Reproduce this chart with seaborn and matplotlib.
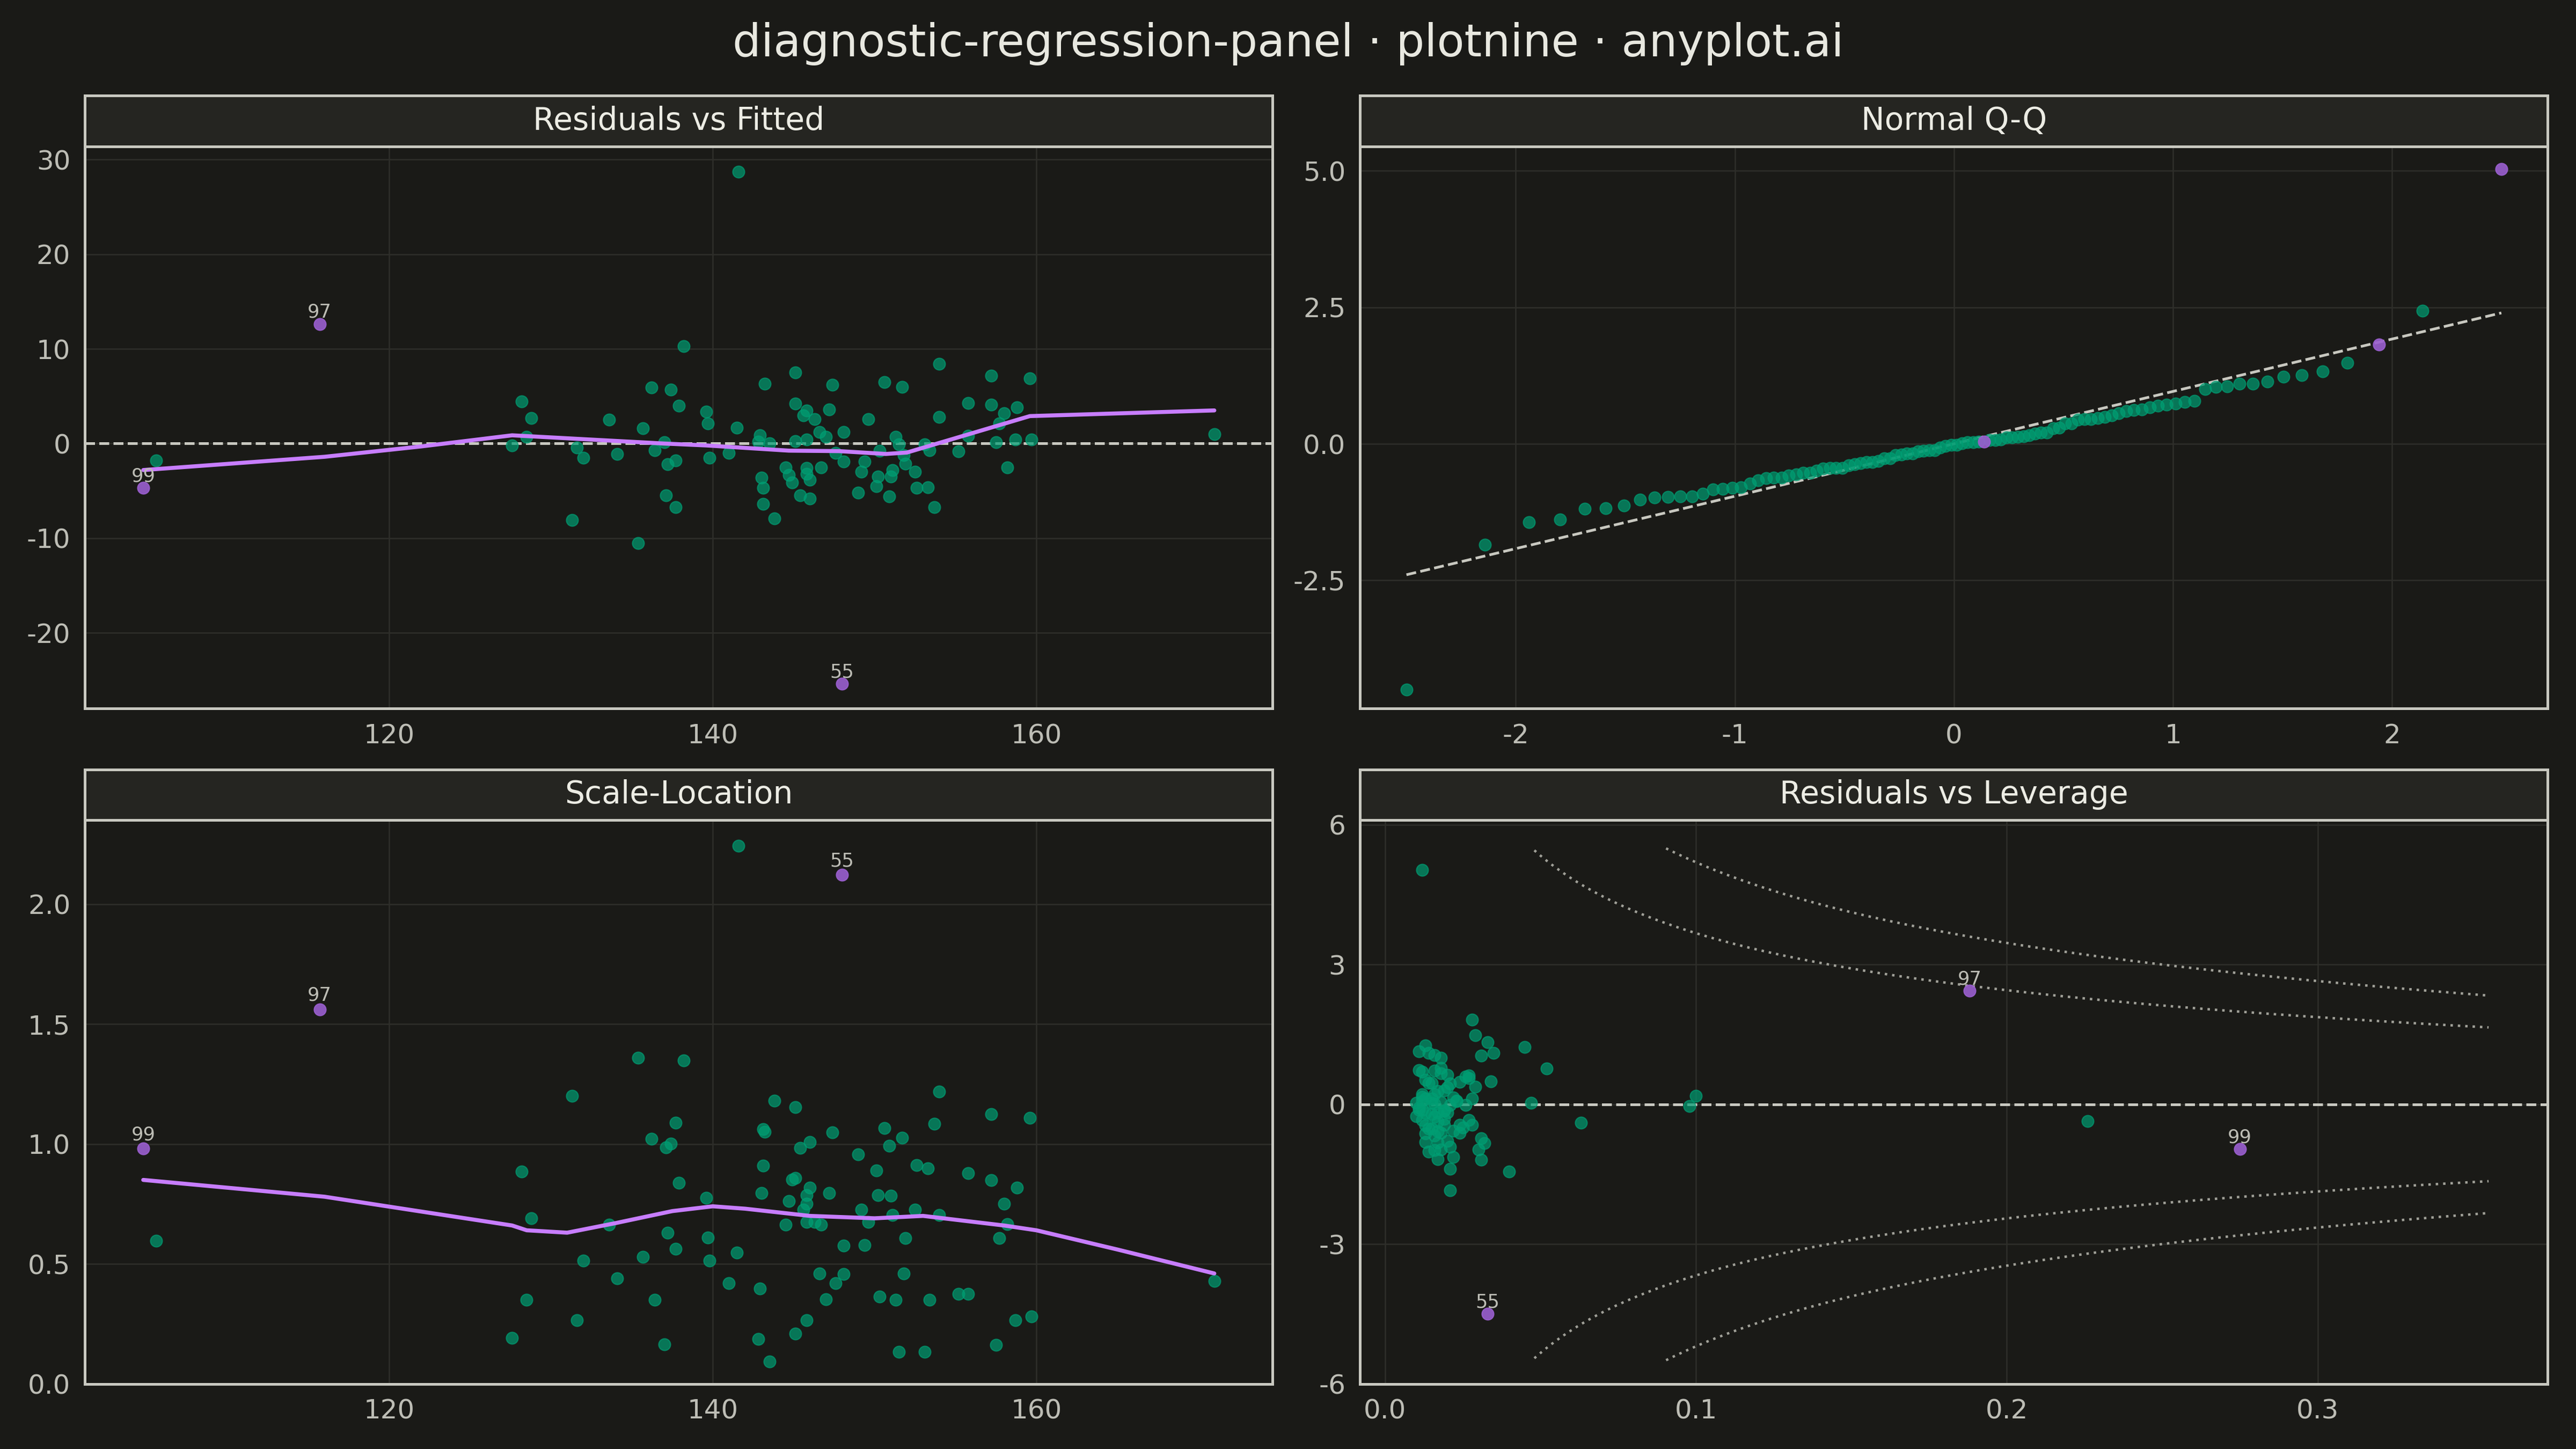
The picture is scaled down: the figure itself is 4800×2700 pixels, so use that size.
import numpy as np
import pandas as pd
import matplotlib
matplotlib.use("Agg")
import matplotlib.pyplot as plt
import seaborn as sns
from statistics import NormalDist

# Data (fitted values and raw residuals)
fitted = [104.8, 105.6, 115.7, 141.6, 148.0,
          138.2, 128.2, 128.8, 127.6, 128.5, 131.3, 131.6, 132.0, 133.6, 134.1,
          135.4, 135.7, 136.2, 136.4, 137.0, 137.2, 137.7, 137.1, 137.7, 137.4,
          137.9, 139.6, 139.7, 139.8, 141.5, 143.2, 142.9, 142.8, 143.5, 143.0,
          143.1, 143.1, 143.8, 145.1, 145.1, 145.8, 145.6, 146.3, 147.2, 147.4,
          145.1, 145.8, 146.6, 147.0, 148.1, 144.5, 144.7, 144.9, 145.8, 145.8,
          146.0, 146.7, 145.4, 146.0, 147.6, 148.1, 149.4, 149.2, 149.0, 149.6,
          150.6, 151.7, 150.3, 151.3, 151.5, 151.8, 151.9, 151.1, 151.0, 150.2,
          150.1, 150.9, 152.5, 152.6, 153.3, 153.7, 153.1, 153.4, 154.0, 154.0,
          155.2, 155.8, 155.8, 157.2, 157.2, 157.7, 158.0, 157.5, 158.2, 158.7,
          158.8, 159.6, 159.7, 171.0, 141.0]
residual = [-4.7, -1.8, 12.6, 28.7, -25.4,
            10.3, 4.45, 2.7, -0.2, 0.7, -8.1, -0.4, -1.5, 2.5, -1.1,
            -10.5, 1.6, 5.9, -0.7, 0.15, -2.2, -1.8, -5.5, -6.7, 5.7,
            4.0, 3.4, 2.1, -1.5, 1.7, 6.3, 0.9, 0.2, 0.05, -3.6,
            -4.7, -6.4, -7.9, 7.5, 4.2, 3.5, 3.0, 2.6, 3.6, 6.2,
            0.25, 0.4, 1.2, 0.7, 1.2, -2.5, -3.3, -4.1, -2.6, -3.2,
            -3.8, -2.5, -5.5, -5.8, -1.0, -1.9, -1.9, -3.0, -5.2, 2.6,
            6.5, 6.0, -0.75, 0.7, -0.1, -1.2, -2.1, -2.8, -3.5, -3.5,
            -4.5, -5.6, -3.0, -4.7, -4.6, -6.7, -0.1, -0.7, 8.4, 2.8,
            -0.8, 4.3, 0.8, 7.2, 4.1, 2.1, 3.2, 0.15, -2.5, 0.4,
            3.8, 6.9, 0.45, 1.0, -1.0]
leverage = [0.275, 0.226, 0.188, 0.012, 0.033,
            0.028, 0.018, 0.024, 0.098, 0.015, 0.040, 0.011, 0.016, 0.021, 0.013,
            0.021, 0.017, 0.031, 0.012, 0.047, 0.063, 0.019, 0.030, 0.031, 0.018,
            0.012, 0.026, 0.029, 0.010, 0.019, 0.014, 0.012, 0.010, 0.016, 0.013,
            0.017, 0.022, 0.021, 0.033, 0.011, 0.027, 0.013, 0.015, 0.020, 0.035,
            0.018, 0.023, 0.016, 0.028, 0.012, 0.019, 0.017, 0.031, 0.013, 0.022,
            0.016, 0.024, 0.018, 0.014, 0.020, 0.012, 0.027, 0.015, 0.021, 0.014,
            0.011, 0.016, 0.019, 0.013, 0.026, 0.015, 0.017, 0.025, 0.018, 0.024,
            0.020, 0.016, 0.014, 0.032, 0.013, 0.017, 0.021, 0.011, 0.029, 0.034,
            0.019, 0.052, 0.022, 0.013, 0.016, 0.020, 0.027, 0.015, 0.028, 0.012,
            0.018, 0.045, 0.023, 0.100, 0.017]
labels = [99, None, 97, None, 55] + [None] * 95

lowess1_x = [104.8, 116, 122, 127.6, 137, 139.6, 144.7, 147.8, 150.7, 152, 159.6, 171]
lowess1_y = [-2.8, -1.4, -0.3, 0.87, 0.0, -0.2, -0.75, -0.8, -1.1, -0.95, 2.9, 3.5]
lowess3_x = [104.8, 116, 127.6, 128.5, 131, 134, 137.5, 140, 142, 146, 150, 153, 158, 160, 165, 171]
lowess3_y = [0.85, 0.78, 0.66, 0.64, 0.63, 0.67, 0.72, 0.74, 0.73, 0.70, 0.69, 0.70, 0.66, 0.64, 0.56, 0.46]

BG = "#1a1a17"
STRIP = "#252521"
EDGE = "#c8c8c0"
GRID = "#2e2e2a"
TEXT = "#bdbdb5"
GREEN = "#009e73"
PURPLE = "#9b5fd0"
LINE = "#c77dff"

sns.set_theme(style="dark")
plt.rcParams["font.family"] = ["DejaVu Sans"]

df = pd.DataFrame({"fitted": fitted, "resid": residual, "lev": leverage, "label": labels})
sigma = 5.74
df["std"] = df["resid"] / (sigma * np.sqrt(1 - df["lev"]))
df["sqrt_std"] = np.sqrt(np.abs(df["std"]))
df["hl"] = df["label"].notna()

n = len(df)
nd = NormalDist()
theo = [nd.inv_cdf((i + 1 - 0.375) / (n + 0.25)) for i in range(n)]
qq = pd.DataFrame({"theo": theo, "sample": np.sort(df["std"].values)})
qq["hl"] = False
qq.loc[[55, 97, 99], "hl"] = True
slope = 0.96
icept = 0.0

fig = plt.figure(figsize=(16, 9), dpi=300, facecolor=BG)
fig.suptitle("diagnostic-regression-panel · plotnine · anyplot.ai", color="#e8e8e0",
             fontsize=20, y=0.985)

boxes = [(0.033, 0.511, 0.461, 0.388), (0.528, 0.511, 0.461, 0.388),
         (0.033, 0.045, 0.461, 0.389), (0.528, 0.045, 0.461, 0.389)]
titles = ["Residuals vs Fitted", "Normal Q-Q", "Scale-Location", "Residuals vs Leverage"]
axes = []
for (l, b, w, h), t in zip(boxes, titles):
    ax = fig.add_axes([l, b, w, h])
    sx = fig.add_axes([l, b + h, w, 0.035])
    sx.set_facecolor(STRIP)
    sx.set_xticks([]); sx.set_yticks([])
    for s in sx.spines.values():
        s.set_color(EDGE); s.set_linewidth(1.2)
    sx.text(0.5, 0.5, t, ha="center", va="center", color="#ecece4", fontsize=14,
            transform=sx.transAxes)
    ax.set_facecolor(BG)
    for s in ax.spines.values():
        s.set_color(EDGE); s.set_linewidth(1.2)
    ax.grid(True, color=GRID, linewidth=0.6)
    ax.tick_params(colors=TEXT, labelsize=12, length=3, color=GRID)
    ax.set_xlabel(""); ax.set_ylabel("")
    axes.append(ax)

def pts(ax, data, x, y):
    sns.scatterplot(data=data[~data["hl"]], x=x, y=y, ax=ax, color=GREEN, alpha=0.7,
                    s=28, edgecolor=GREEN, linewidth=0.5, zorder=3)
    sns.scatterplot(data=data[data["hl"]], x=x, y=y, ax=ax, color=PURPLE, alpha=0.9,
                    s=28, edgecolor=PURPLE, linewidth=0.5, zorder=4)
    ax.set_xlabel(""); ax.set_ylabel("")

def annot(ax, y, off):
    for _, r in df[df["hl"]].iterrows():
        ax.text(r["fitted" if y != "std" else "lev"], r[y] + off, str(int(r["label"])),
                ha="center", va="bottom", color=TEXT, fontsize=8.5, zorder=5)

# Residuals vs Fitted
ax = axes[0]
ax.axhline(0, color=EDGE, ls="--", lw=1.2, zorder=2)
sns.lineplot(x=lowess1_x, y=lowess1_y, ax=ax, color=LINE, lw=1.8, zorder=4)
pts(ax, df, "fitted", "resid")
annot(ax, "resid", 0.3)
ax.set_xlim(101.2, 174.6); ax.set_ylim(-28, 31.4)
ax.set_xticks([120, 140, 160]); ax.set_yticks([-20, -10, 0, 10, 20, 30])
ax.set_yticklabels(["-20", "-10", "0", "10", "20", "30"])

# Normal Q-Q
ax = axes[1]
lx = np.array([min(theo), max(theo)])
sns.lineplot(x=lx, y=icept + slope * lx, ax=ax, color=EDGE, lw=1.2, ls="--", zorder=2)
pts(ax, qq, "theo", "sample")
ax.set_xlim(-2.71, 2.71); ax.set_ylim(-4.85, 5.45)
ax.set_xticks([-2, -1, 0, 1, 2]); ax.set_xticklabels(["-2", "-1", "0", "1", "2"])
ax.set_yticks([-2.5, 0, 2.5, 5.0]); ax.set_yticklabels(["-2.5", "0.0", "2.5", "5.0"])

# Scale-Location
ax = axes[2]
sns.lineplot(x=lowess3_x, y=lowess3_y, ax=ax, color=LINE, lw=1.8, zorder=4)
pts(ax, df, "fitted", "sqrt_std")
annot(ax, "sqrt_std", 0.02)
ax.set_xlim(101.2, 174.6); ax.set_ylim(0, 2.35)
ax.set_xticks([120, 140, 160]); ax.set_yticks([0, 0.5, 1.0, 1.5, 2.0])
ax.set_yticklabels(["0.0", "0.5", "1.0", "1.5", "2.0"])

# Residuals vs Leverage with Cook's distance contours (p = 3)
ax = axes[3]
ax.axhline(0, color=EDGE, ls="--", lw=1.2, zorder=2)
hh = np.linspace(0.01, 0.355, 400)
for D in (0.5, 1.0):
    c = np.sqrt(D * 3 * (1 - hh) / hh)
    m = c <= 5.5
    for sgn in (1, -1):
        ax.plot(hh[m], sgn * c[m], color="#a0a098", ls=(0, (1, 2)), lw=1.1, zorder=2)
pts(ax, df, "lev", "std")
annot(ax, "std", 0.05)
ax.set_xlim(-0.008, 0.374); ax.set_ylim(-6, 6.1)
ax.set_xticks([0.0, 0.1, 0.2, 0.3]); ax.set_xticklabels(["0.0", "0.1", "0.2", "0.3"])
ax.set_yticks([-6, -3, 0, 3, 6]); ax.set_yticklabels(["-6", "-3", "0", "3", "6"])

fig.savefig("out.png", dpi=300, facecolor=BG)
